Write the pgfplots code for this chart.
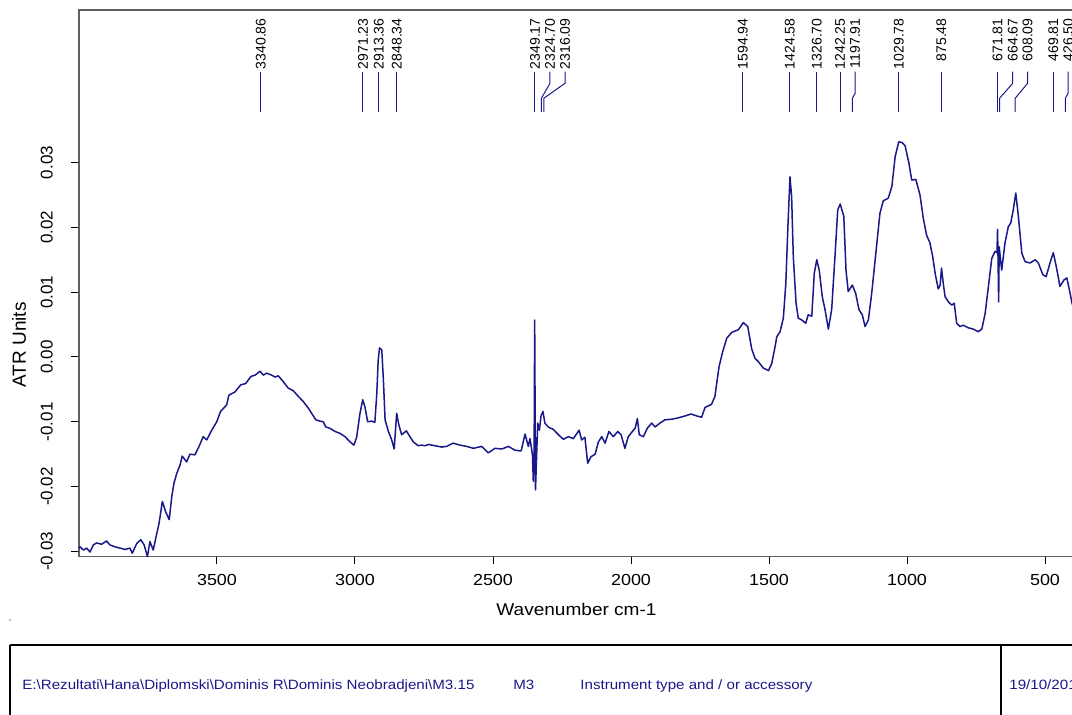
\documentclass[border=0pt]{standalone}
\usepackage{fontspec}
\setmainfont{Liberation Sans}
\newfontfamily\wfont{Liberation Sans}[FakeStretch=1.12]
\usepackage{pgfplots}
\pgfplotsset{compat=1.18}
\definecolor{specblue}{RGB}{24,24,138}
\definecolor{framegray}{RGB}{95,95,95}

\pgfplotstableread{
wn abs
4000 -0.0295
3996 -0.0293
3984 -0.0298
3972 -0.0295
3960 -0.0301
3948 -0.0290
3936 -0.0287
3918 -0.0289
3900 -0.0284
3888 -0.0290
3870 -0.0293
3851 -0.0295
3833 -0.0297
3815 -0.0295
3807 -0.0303
3791 -0.0288
3776 -0.0282
3764 -0.0290
3752 -0.0308
3743 -0.0285
3731 -0.0298
3718 -0.0272
3710 -0.0257
3698 -0.0223
3686 -0.0239
3673 -0.0251
3664 -0.0216
3656 -0.0195
3646 -0.0180
3634 -0.0167
3626 -0.0153
3610 -0.0162
3598 -0.0150
3580 -0.0151
3565 -0.0138
3550 -0.0123
3537 -0.0128
3519 -0.0113
3501 -0.0100
3487 -0.0084
3465 -0.0074
3457 -0.0059
3435 -0.0054
3414 -0.0043
3396 -0.0041
3377 -0.0030
3362 -0.0028
3344 -0.0022
3332 -0.0028
3320 -0.0025
3302 -0.0028
3290 -0.0031
3278 -0.0029
3260 -0.0038
3242 -0.0048
3224 -0.0052
3205 -0.0061
3187 -0.0069
3169 -0.0079
3157 -0.0087
3142 -0.0097
3127 -0.0099
3115 -0.0100
3106 -0.0108
3091 -0.0110
3072 -0.0115
3054 -0.0118
3036 -0.0123
3018 -0.0131
3004 -0.0136
2994 -0.0124
2982 -0.0087
2972 -0.0066
2964 -0.0077
2954 -0.0100
2940 -0.0099
2928 -0.0101
2921 -0.0056
2916 -0.0005
2911 0.0014
2903 0.0011
2897 -0.0036
2891 -0.0097
2879 -0.0115
2867 -0.0128
2858 -0.0142
2849 -0.0087
2841 -0.0105
2831 -0.0120
2814 -0.0114
2801 -0.0123
2789 -0.0131
2771 -0.0137
2758 -0.0136
2746 -0.0137
2734 -0.0135
2710 -0.0137
2686 -0.0139
2668 -0.0138
2644 -0.0133
2620 -0.0136
2595 -0.0138
2571 -0.0141
2541 -0.0138
2517 -0.0148
2493 -0.0141
2468 -0.0142
2444 -0.0138
2420 -0.0144
2398 -0.0145
2384 -0.0119
2372 -0.0138
2366 -0.0126
2357 -0.0151
2354 -0.0192
2351 -0.0149
2349 0.0057
2346 -0.0205
2338 -0.0102
2332 -0.0113
2326 -0.0091
2319 -0.0084
2312 -0.0102
2300 -0.0108
2281 -0.0112
2263 -0.0120
2245 -0.0127
2227 -0.0123
2209 -0.0126
2188 -0.0113
2179 -0.0128
2167 -0.0124
2157 -0.0164
2145 -0.0154
2130 -0.0150
2118 -0.0131
2106 -0.0123
2094 -0.0133
2080 -0.0115
2064 -0.0123
2048 -0.0115
2036 -0.0120
2022 -0.0141
2010 -0.0123
1995 -0.0115
1985 -0.0110
1977 -0.0095
1970 -0.0120
1955 -0.0123
1941 -0.0110
1925 -0.0102
1913 -0.0108
1895 -0.0102
1877 -0.0097
1852 -0.0096
1829 -0.0094
1804 -0.0091
1783 -0.0088
1762 -0.0091
1744 -0.0093
1732 -0.0078
1708 -0.0073
1696 -0.0061
1681 -0.0015
1668 0.0008
1653 0.0029
1635 0.0038
1611 0.0042
1593 0.0053
1577 0.0047
1563 0.0013
1551 -0.0002
1539 -0.0007
1521 -0.0017
1502 -0.0021
1490 -0.0010
1478 0.0016
1472 0.0031
1460 0.0039
1448 0.0060
1439 0.0114
1432 0.0196
1424 0.0278
1418 0.0247
1412 0.0155
1402 0.0083
1394 0.0060
1381 0.0057
1367 0.0052
1358 0.0065
1345 0.0063
1336 0.0129
1327 0.0150
1318 0.0134
1307 0.0093
1297 0.0073
1285 0.0043
1273 0.0073
1261 0.0155
1251 0.0227
1242 0.0236
1229 0.0217
1221 0.0134
1213 0.0101
1198 0.0111
1186 0.0098
1174 0.0073
1162 0.0065
1152 0.0047
1140 0.0057
1128 0.0098
1113 0.0160
1098 0.0222
1086 0.0241
1068 0.0245
1055 0.0263
1043 0.0309
1030 0.0332
1018 0.0331
1007 0.0326
993 0.0299
983 0.0273
968 0.0274
953 0.0250
941 0.0214
929 0.0188
917 0.0176
907 0.0155
898 0.0129
887 0.0105
880 0.0111
875 0.0137
868 0.0111
862 0.0093
850 0.0085
838 0.0080
829 0.0083
820 0.0052
808 0.0047
796 0.0049
778 0.0045
760 0.0043
742 0.0039
729 0.0043
717 0.0067
705 0.0109
693 0.0152
681 0.0163
674 0.0161
672 0.0197
670.5 0.0160
668 0.0085
666 0.0170
657 0.0134
645 0.0176
633 0.0201
624 0.0207
615 0.0227
606 0.0253
597 0.0219
584 0.0160
572 0.0147
554 0.0145
536 0.0150
524 0.0145
508 0.0127
496 0.0124
482 0.0145
470 0.0161
458 0.0137
446 0.0109
431 0.0119
421 0.0122
409 0.0098
403 0.0085
400 0.0080
}\spectrum

\begin{document}
\begin{tikzpicture}
\useasboundingbox (0,0) rectangle (536pt,357.5pt);
\clip (0,0) rectangle (536pt,357.5pt);
\begin{axis}[
  at={(39.5pt,79.25pt)}, anchor=south west,
  scale only axis, width=497.5pt, height=273.25pt,
  x dir=reverse, xmin=395, xmax=4000, ymin=-0.03079, ymax=0.05355,
  scaled x ticks=false, scaled y ticks=false,
  axis line style={framegray, line width=0.75pt},
  tick align=outside, xtick pos=lower, ytick pos=left,
  major tick length=4pt,
  tick style={black, line width=0.5pt},
  xtick={500,1000,1500,2000,2500,3000,3500},
  xticklabels={500,1000,1500,2000,2500,3000,3500},
  ytick={-0.03,-0.02,-0.01,0,0.01,0.02,0.03},
  yticklabels={-0.03,-0.02,-0.01,0.00,0.01,0.02,0.03},
  xticklabel style={font=\wfont\fontsize{8}{9}\selectfont, anchor=north, inner sep=0pt},
  xticklabel shift=4.75pt,
  yticklabel style={font=\fontsize{8.5}{10}\selectfont, rotate=90, anchor=south, inner sep=0pt},
  yticklabel shift=8.95pt,
  every axis x label/.style={at={(axis description cs:0.5,0)}, anchor=base, yshift=-29.75pt, font=\wfont\fontsize{8.5}{10}\selectfont},
  every axis y label/.style={at={(axis description cs:-0.0603,0.387)}, rotate=90, anchor=center, font=\fontsize{9.5}{11}\selectfont},
  xlabel={Wavenumber cm-1},
  ylabel={ATR Units},
  clip=false,
]
\addplot[specblue, line width=0.75pt, line join=round] table[x=wn, y=abs] {\spectrum};

% peak annotation lines
\begin{scope}[specblue, line width=0.5pt]
\draw (axis cs:3340.86,0.03781) -- (axis cs:3340.86,0.04403);
\draw (axis cs:2971.23,0.03781) -- (axis cs:2971.23,0.04403);
\draw (axis cs:2913.36,0.03781) -- (axis cs:2913.36,0.04403);
\draw (axis cs:2848.34,0.03781) -- (axis cs:2848.34,0.04403);
\draw (axis cs:2349.17,0.03781) -- (axis cs:2349.17,0.04403);
\draw (axis cs:2324.70,0.03781) -- (axis cs:2324.70,0.03992) -- (axis cs:2293.5,0.04224) -- (axis cs:2293.5,0.04403);
\draw (axis cs:2316.09,0.03781) -- (axis cs:2316.09,0.03992) -- (axis cs:2239,0.04224) -- (axis cs:2239,0.04403);
\draw (axis cs:1594.94,0.03781) -- (axis cs:1594.94,0.04403);
\draw (axis cs:1424.58,0.03781) -- (axis cs:1424.58,0.04403);
\draw (axis cs:1326.70,0.03781) -- (axis cs:1326.70,0.04403);
\draw (axis cs:1242.25,0.03781) -- (axis cs:1242.25,0.04403);
\draw (axis cs:1197.91,0.03781) -- (axis cs:1197.91,0.03992) -- (axis cs:1188,0.0407) -- (axis cs:1188,0.04403);
\draw (axis cs:1029.78,0.03781) -- (axis cs:1029.78,0.04403);
\draw (axis cs:875.48,0.03781) -- (axis cs:875.48,0.04403);
\draw (axis cs:671.81,0.03781) -- (axis cs:671.81,0.04403);
\draw (axis cs:664.67,0.03781) -- (axis cs:664.67,0.03992) -- (axis cs:617,0.04224) -- (axis cs:617,0.04403);
\draw (axis cs:608.09,0.03781) -- (axis cs:608.09,0.03992) -- (axis cs:563,0.04224) -- (axis cs:563,0.04403);
\draw (axis cs:469.81,0.03781) -- (axis cs:469.81,0.04403);
\draw (axis cs:426.50,0.03781) -- (axis cs:426.50,0.03992) -- (axis cs:416,0.0407) -- (axis cs:416,0.04403);
\end{scope}
% peak labels
\begin{scope}[every node/.style={rotate=90, anchor=east, inner sep=0pt, font=\fontsize{7}{8}\selectfont, text=black}]
\node at (axis cs:3340.86,0.0523) {3340.86};
\node at (axis cs:2971.23,0.0523) {2971.23};
\node at (axis cs:2913.36,0.0523) {2913.36};
\node at (axis cs:2848.34,0.0523) {2848.34};
\node at (axis cs:2348,0.0523) {2349.17};
\node at (axis cs:2293.5,0.0523) {2324.70};
\node at (axis cs:2239,0.0523) {2316.09};
\node at (axis cs:1594.94,0.0523) {1594.94};
\node at (axis cs:1424.58,0.0523) {1424.58};
\node at (axis cs:1326.70,0.0523) {1326.70};
\node at (axis cs:1242.25,0.0523) {1242.25};
\node at (axis cs:1188,0.0523) {1197.91};
\node at (axis cs:1029.78,0.0523) {1029.78};
\node at (axis cs:875.48,0.0523) {875.48};
\node at (axis cs:671.81,0.0523) {671.81};
\node at (axis cs:617,0.0523) {664.67};
\node at (axis cs:563,0.0523) {608.09};
\node at (axis cs:469.81,0.0523) {469.81};
\node at (axis cs:416,0.0523) {426.50};
\end{scope}
\end{axis}
% footer box
\draw[black, line width=0.75pt] (5pt,35pt) -- (545pt,35pt);
\draw[black, line width=0.75pt] (5pt,35pt) -- (5pt,-5pt);
\draw[black, line width=0.75pt] (500.5pt,35pt) -- (500.5pt,-5pt);
\fill[gray] (5pt,47.5pt) circle (0.4pt);
\begin{scope}[every node/.style={anchor=base west, inner sep=0pt, text=specblue, font=\wfont\fontsize{6.75}{8}\selectfont}]
\node at (11pt,12.5pt) {E:\textbackslash Rezultati\textbackslash Hana\textbackslash Diplomski\textbackslash Dominis R\textbackslash Dominis Neobradjeni\textbackslash M3.15};
\node at (256.5pt,12.5pt) {M3};
\node at (290pt,12.5pt) {Instrument type and / or accessory};
\node at (504.5pt,12.5pt) {19/10/2016};
\end{scope}
\end{tikzpicture}
\end{document}
